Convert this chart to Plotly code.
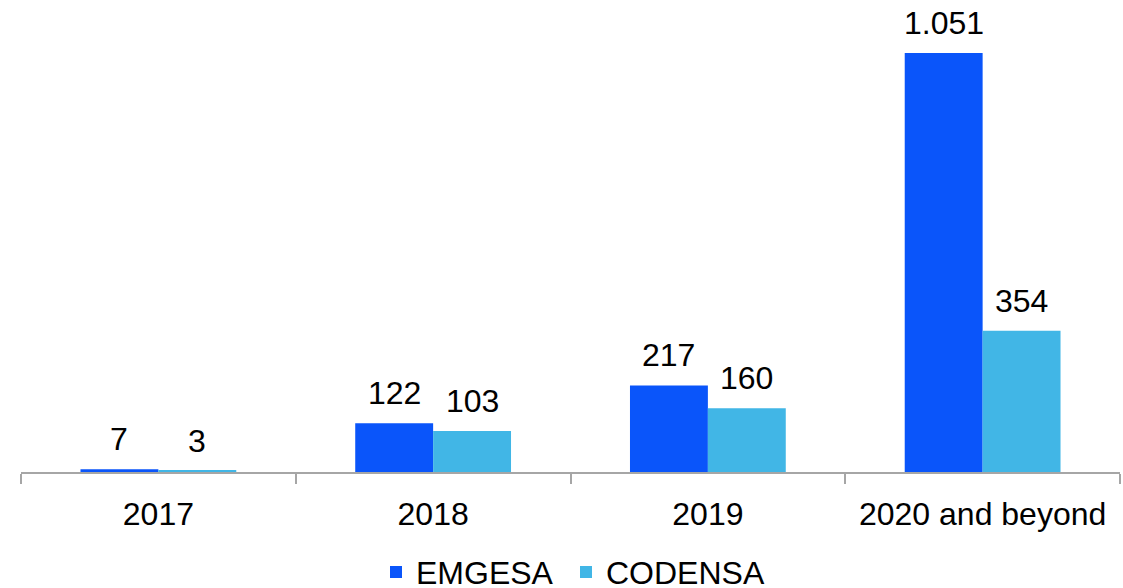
import plotly.graph_objects as go

categories = ["2017", "2018", "2019", "2020 and beyond"]
emgesa = [7, 122, 217, 1051]
codensa = [3, 103, 160, 354]
emgesa_labels = ["7", "122", "217", "1.051"]
codensa_labels = ["3", "103", "160", "354"]

C_EM = "#0A55FA"
C_CO = "#41B6E6"
FONT = "Liberation Sans, Arial, sans-serif"
FS = 32

fig = go.Figure()
fig.add_trace(go.Bar(name="EMGESA", x=categories, y=emgesa, marker_color=C_EM,
                     marker_line_width=0, legend="legend"))
fig.add_trace(go.Bar(name="CODENSA", x=categories, y=codensa, marker_color=C_CO,
                     marker_line_width=0, legend="legend2"))

annotations = []
for i, (v, lab) in enumerate(zip(emgesa, emgesa_labels)):
    annotations.append(dict(x=i, y=v, text=lab, xref="x", yref="y", showarrow=False,
                            xshift=-39, yanchor="bottom", yshift=10,
                            font=dict(family=FONT, size=FS, color="black")))
for i, (v, lab) in enumerate(zip(codensa, codensa_labels)):
    annotations.append(dict(x=i, y=v, text=lab, xref="x", yref="y", showarrow=False,
                            xshift=39, yanchor="bottom", yshift=10,
                            font=dict(family=FONT, size=FS, color="black")))

legend_common = dict(orientation="h", xanchor="left", xref="container",
                     y=0.027, yanchor="middle", yref="container",
                     font=dict(family=FONT, size=FS, color="black"),
                     itemwidth=30, bgcolor="rgba(0,0,0,0)")

fig.update_layout(
    width=1123, height=588,
    margin=dict(l=21, r=3, t=20, b=116, autoexpand=False),
    paper_bgcolor="white", plot_bgcolor="white",
    barmode="group", bargap=0.433, bargroupgap=0,
    font=dict(family=FONT, size=FS, color="black"),
    showlegend=True,
    legend=dict(x=376 / 1123, **legend_common),
    legend2=dict(x=566 / 1123, **legend_common),
    annotations=annotations,
)
fig.update_xaxes(type="category", showline=True, linecolor="#A6A6A6", linewidth=1.5,
                 ticks="outside", tickson="boundaries", ticklen=10, tickcolor="#A6A6A6",
                 tickwidth=1.5, showgrid=False, zeroline=False, tickangle=0,
                 range=[-0.5, 3.5], automargin=False,
                 tickfont=dict(family=FONT, size=FS, color="black"),
                 ticklabelstandoff=13)
fig.update_yaxes(visible=False, range=[0, 1133.7], showgrid=False, zeroline=False,
                 automargin=False)

fig.write_html("out.html", config={"displayModeBar": False},
               post_script="document.body.style.margin='0';document.body.style.overflow='hidden';")
